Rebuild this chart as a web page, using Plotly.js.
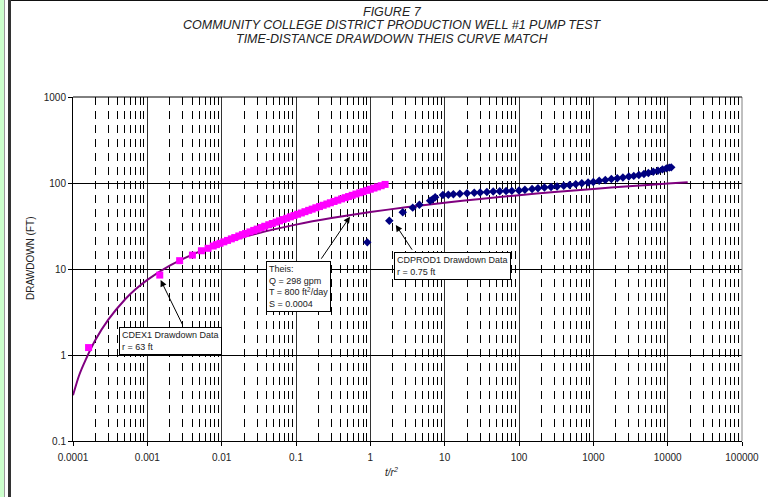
<!DOCTYPE html>
<html>
<head>
<meta charset="utf-8">
<script src="https://cdn.plot.ly/plotly-3.0.1.min.js"></script>
<style>
  html, body { margin: 0; padding: 0; background: #ffffff; }
  #wrap { position: relative; width: 768px; height: 497px; overflow: hidden; }
  #chart { position: absolute; left: 0; top: 0; width: 768px; height: 497px; }
  .edge { position: absolute; z-index: 10; }
</style>
</head>
<body>
<div id="wrap">
  <div id="chart"></div>
  <div class="edge" style="left:0;top:0;width:4px;height:497px;background:#ccffcc;"></div>
  <div class="edge" style="left:4px;top:0;width:1px;height:497px;background:#9a9a9a;"></div>
  <div class="edge" style="left:8px;top:0;width:3px;height:497px;background:#333333;"></div>
  <div class="edge" style="left:11px;top:0;width:757px;height:1px;background:#111111;"></div>
</div>
<script>
// ---- Theis type curve ----
const theisX = [0.0001, 0.00012, 0.00015, 0.0002, 0.0003, 0.0005, 0.0007, 0.001, 0.002, 0.005,
                0.01, 0.03, 0.1, 0.3, 1, 3, 10, 30, 100, 300, 1000, 3000, 10000, 18600];
const theisY = [0.34, 0.57, 0.90, 1.49, 2.59, 4.42, 5.84, 7.48, 10.95, 15.9,
                19.7, 25.9, 32.8, 39.1, 45.9, 52.2, 59.1, 65.3, 72.2, 78.5, 85.3, 91.6, 98.5, 102];

// ---- CDEX1 drawdown data, r = 63 ft ----
const cdex1X = [0.000162, 0.00147, 0.00272, 0.00404, 0.00534, 0.00656,
  0.0077, 0.0085, 0.0095, 0.0107, 0.012, 0.0135, 0.015, 0.017, 0.019, 0.021, 0.024, 0.027,
  0.030, 0.034, 0.038, 0.043, 0.048, 0.054, 0.060, 0.067, 0.075, 0.084, 0.094, 0.105,
  0.118, 0.132, 0.148, 0.165, 0.185, 0.207, 0.232, 0.26, 0.29, 0.325, 0.365, 0.41,
  0.46, 0.51, 0.57, 0.64, 0.72, 0.80, 0.90, 1.0, 1.12, 1.25, 1.4, 1.58];
const cdex1Y = [1.22, 8.5, 12.5, 14.5, 16.3, 17.4,
  18.5, 19.2, 19.9, 20.7, 21.5, 22.4, 23.2, 24.2, 25.1, 25.9, 27.0, 28.1,
  29.1, 30.3, 31.4, 32.7, 33.8, 35.1, 36.3, 37.6, 38.9, 40.4, 41.8, 43.3,
  44.8, 46.4, 48.1, 49.7, 51.5, 53.2, 55.1, 57.0, 58.9, 61.0, 63.1, 65.3,
  67.5, 69.6, 71.9, 74.4, 77.0, 79.4, 82.1, 84.6, 87.3, 90.1, 93.0, 96.3];

// ---- CDPROD1 drawdown data, r = 0.75 ft ----
const cdprod1X = [0.91, 1.80, 2.73, 3.72, 4.57, 6.37, 6.85, 7.45, 9.46, 11.2,
  13.1, 16, 20, 25, 30, 37, 45, 55, 67, 80, 100, 120, 150, 180, 220, 270, 325, 400,
  480, 580, 700, 850, 1000, 1200, 1450, 1750, 2100, 2500, 3000, 3500, 4100, 4800,
  5500, 6400, 7400, 8500, 9600, 10500, 11170];
const cdprod1Y = [20.4, 36.4, 45.6, 51.7, 56.0, 62.3, 64.5, 68.2, 72.5, 73.0,
  74, 75, 76, 77, 77.5, 78.5, 79.5, 80, 80.5, 81, 82, 83.5, 85, 87, 88.5, 90, 91, 93,
  95, 97, 99.5, 101.5, 103, 106, 108.5, 111, 113.5, 116, 119, 121, 124, 127,
  131, 135, 139, 144, 148, 151, 152];

// axis tick labels
const xTickVals = [0.0001, 0.001, 0.01, 0.1, 1, 10, 100, 1000, 10000, 100000];
const xTickText = ['0.0001', '0.001', '0.01', '0.1', '1', '10', '100', '1000', '10000', '100000'];
const yTickVals = [0.1, 1, 10, 100, 1000];
const yTickText = ['0.1', '1', '10', '100', '1000'];

// title lines
const titleLines = ['FIGURE 7',
  'COMMUNITY COLLEGE DISTRICT PRODUCTION WELL #1 PUMP TEST',
  'TIME-DISTANCE DRAWDOWN THEIS CURVE MATCH'];

// minor (dashed) grid positions: 2..9 within each decade
const minorX = [];
xTickVals.slice(0, -1).forEach(d => { for (let k = 2; k <= 9; k++) minorX.push(d * k); });

const FONT = 'Liberation Sans, Arial, sans-serif';
const L = 73, R = 742, T = 97, B = 441;
const px = v => (v - L) / (R - L);
const py = v => (B - v) / (B - T);

const traces = [
  { x: theisX, y: theisY, type: 'scatter', mode: 'lines',
    line: { color: '#800080', width: 2, shape: 'spline', smoothing: 0.6 }, name: 'Theis' },
  { x: cdex1X, y: cdex1Y, type: 'scatter', mode: 'markers',
    marker: { symbol: 'square', size: 7, color: '#ff00ff' }, name: 'CDEX1' },
  { x: cdprod1X, y: cdprod1Y, type: 'scatter', mode: 'markers',
    marker: { symbol: 'diamond', size: 6.5, color: '#000080' }, name: 'CDPROD1' }
];

const boxStyle = { showarrow: false, xref: 'paper', yref: 'paper', xanchor: 'left', yanchor: 'top',
  align: 'left', bgcolor: '#ffffff', bordercolor: '#000000', borderwidth: 1, borderpad: 2,
  font: { family: FONT, size: 9, color: '#222' } };
const arrowStyle = { text: ' ', showarrow: true, arrowhead: 2, arrowsize: 1.3, arrowwidth: 1,
  arrowcolor: '#000', axref: 'pixel', ayref: 'pixel', font: { size: 1 }, standoff: 0 };

const titleYs = [12, 25.5, 39];
const titleAnn = titleLines.map((t, i) => ({
  text: t, showarrow: false, xref: 'paper', yref: 'paper',
  x: px(392), y: py(titleYs[i]), xanchor: 'center', yanchor: 'middle',
  font: { family: FONT, size: 12.5, color: '#222', style: 'italic' }
}));

const layout = {
  width: 768, height: 497,
  margin: { l: L, r: 768 - R, t: T, b: 497 - B, pad: 0 },
  paper_bgcolor: '#ffffff', plot_bgcolor: '#ffffff',
  showlegend: false, hovermode: false,
  xaxis: {
    type: 'log', range: [-4, 5], tickmode: 'array', tickvals: xTickVals, ticktext: xTickText,
    tickfont: { family: FONT, size: 10, color: '#222' }, ticklabelstandoff: 3,
    ticks: 'outside', ticklen: 4, tickcolor: '#000', tickwidth: 1,
    showline: true, linecolor: '#000', linewidth: 1, mirror: false,
    showgrid: true, gridcolor: '#333', gridwidth: 1, zeroline: false,
    minor: { tickmode: 'array', tickvals: minorX, showgrid: true, gridcolor: '#000',
             gridwidth: 1, griddash: '8px,6px', ticks: '' }
  },
  yaxis: {
    type: 'log', range: [-1, 3], tickmode: 'array', tickvals: yTickVals, ticktext: yTickText,
    tickfont: { family: FONT, size: 10, color: '#222' },
    ticks: 'outside', ticklen: 4, tickcolor: '#000', tickwidth: 1,
    showline: true, linecolor: '#000', linewidth: 1, mirror: false,
    showgrid: true, gridcolor: '#000', gridwidth: 1, zeroline: false
  },
  shapes: [
    { type: 'line', xref: 'paper', yref: 'paper', x0: 1, x1: 1, y0: 0, y1: 1,
      line: { color: '#808080', width: 1 } },
    { type: 'line', xref: 'paper', yref: 'paper', x0: 0, x1: 1, y0: 1, y1: 1,
      line: { color: '#000', width: 1 } }
  ],
  annotations: titleAnn.concat([
    Object.assign({}, boxStyle, { x: px(119.3), y: py(327.3),
      text: 'CDEX1 Drawdown Data<br>r = 63 ft' }),
    Object.assign({}, boxStyle, { x: px(266), y: py(260.7),
      text: 'Theis:<br>Q = 298 gpm<br>T = 800 ft<sup>2</sup>/day<br>S = 0.0004' }),
    Object.assign({}, boxStyle, { x: px(394.3), y: py(251.7),
      text: 'CDPROD1 Drawdown Data<br>r = 0.75 ft' }),
    Object.assign({}, arrowStyle, { x: Math.log10(0.00151), y: Math.log10(7.45), xref: 'x', yref: 'y', ax: 23, ay: 47 }),
    Object.assign({}, arrowStyle, { x: Math.log10(0.532), y: Math.log10(40.6), xref: 'x', yref: 'y', ax: -30, ay: 44 }),
    Object.assign({}, arrowStyle, { x: Math.log10(2.20), y: Math.log10(32.5), xref: 'x', yref: 'y', ax: 17.6, ay: 26.7 }),
    { text: 'DRAWDOWN (FT)', showarrow: false, xref: 'paper', yref: 'paper',
      x: px(30), y: py(258), textangle: -90, xanchor: 'center', yanchor: 'middle',
      font: { family: FONT, size: 10, color: '#222' } },
    { text: 't/r<sup>2</sup>', showarrow: false, xref: 'paper', yref: 'paper',
      x: px(391), y: py(472), xanchor: 'center', yanchor: 'middle',
      font: { family: FONT, size: 10, color: '#222', style: 'italic' } }
  ])
};

Plotly.newPlot('chart', traces, layout, { displayModeBar: false, staticPlot: true });
</script>
</body>
</html>
